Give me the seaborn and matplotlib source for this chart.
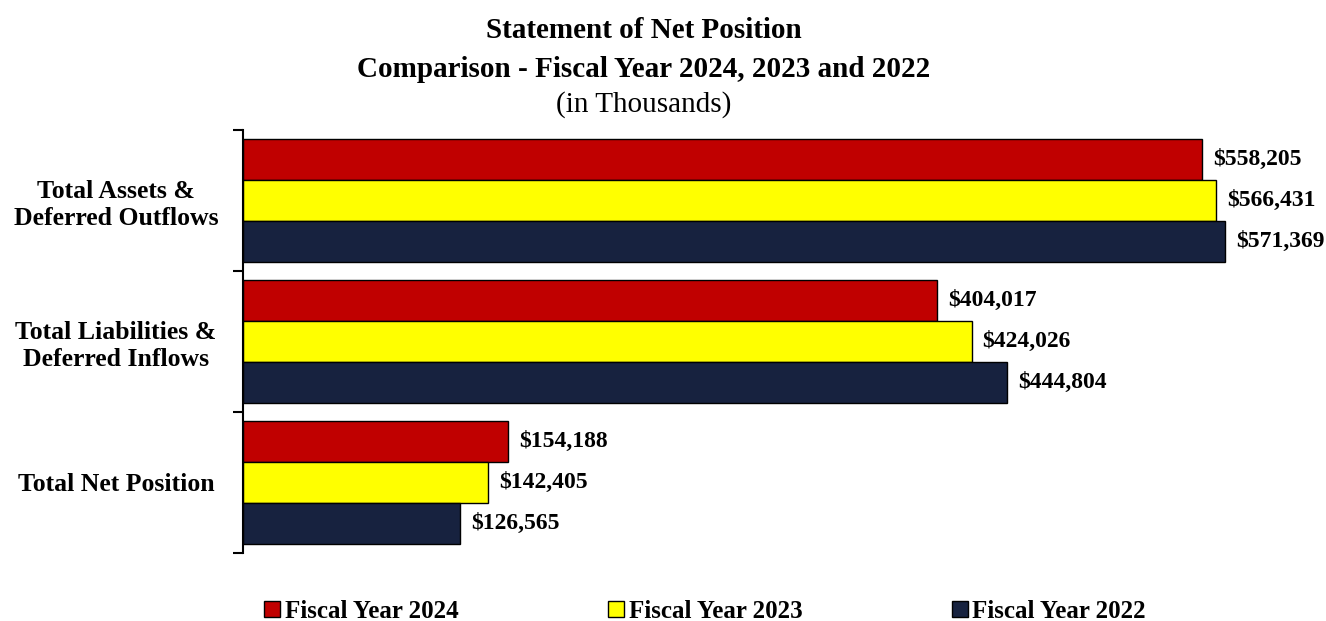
import matplotlib
matplotlib.use("Agg")
import matplotlib.pyplot as plt
import matplotlib.transforms as mtransforms
import seaborn as sns
import pandas as pd
from matplotlib.lines import Line2D

categories = ["Total Assets &\nDeferred Outflows", "Total Liabilities &\nDeferred Inflows", "Total Net Position"]
years = ["Fiscal Year 2024", "Fiscal Year 2023", "Fiscal Year 2022"]
fy2024 = [558205, 404017, 154188]
fy2023 = [566431, 424026, 142405]
fy2022 = [571369, 444804, 126565]
colors = ["#C00000", "#FFFF00", "#17223F"]

rows = []
for yr, vals in zip(years, [fy2024, fy2023, fy2022]):
    for c, v in zip(categories, vals):
        rows.append({"Category": c, "Year": yr, "Value": v})
df = pd.DataFrame(rows)

sns.set_theme(style="white")
plt.rcParams["font.family"] = ["Liberation Serif", "DejaVu Serif"]
plt.rcParams["text.color"] = "black"

fig = plt.figure(figsize=(13.26, 6.21), dpi=100)
ax = fig.add_axes([0.1833, 0.1095, 0.745, 0.6812])

sns.barplot(data=df, y="Category", x="Value", hue="Year", orient="h",
            palette=colors, width=0.87, edgecolor="black", linewidth=1.0,
            saturation=1, ax=ax, legend=False)

for cont, vals in zip(ax.containers, [fy2024, fy2023, fy2022]):
    ax.bar_label(cont, labels=[f"${v:,.0f}" for v in vals], padding=8,
                 fontsize=17, fontweight="bold", color="black", clip_on=False)

ax.set_xlim(0, 575000)
ax.set_ylim(2.5, -0.5)
ax.set_xlabel("")
ax.set_ylabel("")
ax.set_xticks([])
for s in ["top", "right", "bottom"]:
    ax.spines[s].set_visible(False)
ax.spines["left"].set_color("black")
ax.spines["left"].set_linewidth(1.5)
ax.set_yticks([0, 1, 2])
ax.set_yticklabels(categories, fontsize=18.5, fontweight="bold", color="black")
ax.set_yticks([-0.5, 0.5, 1.5, 2.5], minor=True)
ax.tick_params(axis="y", which="major", length=0, pad=0)
ax.tick_params(axis="y", which="minor", length=7, width=1.5, direction="out", color="black", left=True)
for lbl in ax.get_yticklabels():
    lbl.set_horizontalalignment("center")
    lbl.set_transform(lbl.get_transform() + mtransforms.ScaledTranslation(-127/100, 0, fig.dpi_scale_trans))

fig.text(0.4857, 0.951, "Statement of Net Position", ha="center", va="center", fontsize=21, fontweight="bold", color="black")
fig.text(0.4857, 0.888, "Comparison - Fiscal Year 2024, 2023 and 2022", ha="center", va="center", fontsize=21, fontweight="bold", color="black")
fig.text(0.4857, 0.832, "(in Thousands)", ha="center", va="center", fontsize=21, color="black")

handles = [Line2D([0], [0], marker="s", linestyle="none", markersize=11,
                  markerfacecolor=c, markeredgecolor="black", markeredgewidth=1) for c in colors]
leg = fig.legend(handles, years, loc="center", bbox_to_anchor=(0.532, 0.015), ncol=3, frameon=False,
                 prop={"size": 18, "weight": "bold"}, handlelength=0.6, handletextpad=0.2,
                 columnspacing=6.0)
for t in leg.get_texts():
    t.set_color("black")

fig.savefig("out.png", dpi=100)
